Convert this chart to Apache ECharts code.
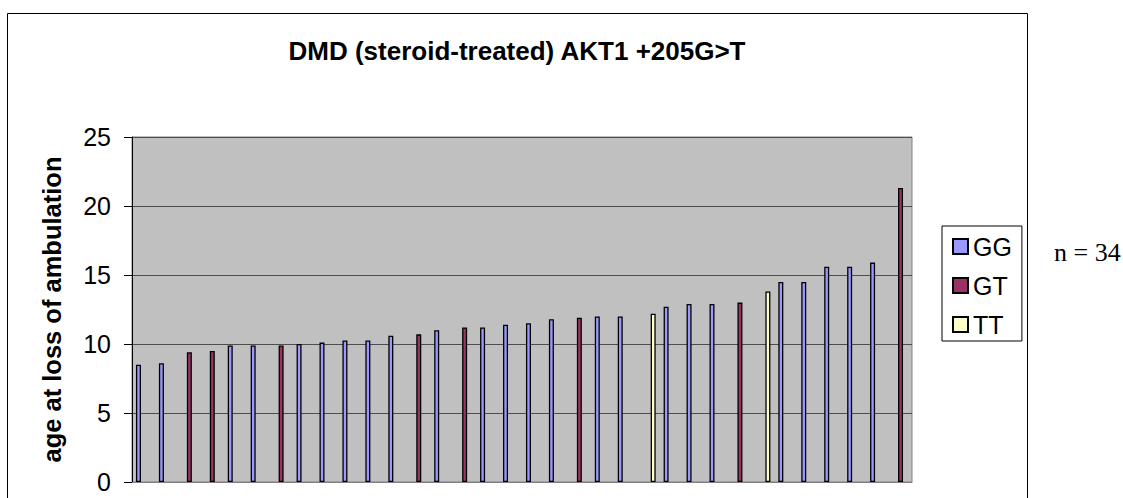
<!DOCTYPE html>
<html>
<head>
<meta charset="utf-8">
<script src="https://cdn.jsdelivr.net/npm/echarts@6/dist/echarts.min.js"></script>
<style>
html,body{margin:0;padding:0;background:#fff;}
#c{width:1123px;height:498px;}
</style>
</head>
<body>
<div id="c"></div>
<script>
const categories = ['1','2','3','4','5','6','7','8','9','10','11','12','13','14','15','16','17','18','19','20','21','22','23','24','25','26','27','28','29','30','31','32','33','34'];
const values = [8.5, 8.6, 9.4, 9.5, 9.9, 9.9, 9.9, 10.0, 10.1, 10.25, 10.25, 10.6, 10.7, 11.0, 11.2, 11.2, 11.4, 11.5, 11.8, 11.9, 12.0, 12.0, 12.2, 12.7, 12.9, 12.9, 13.0, 13.8, 14.5, 14.5, 15.6, 15.6, 15.9, 21.3];
const genotypes = ['GG','GG','GT','GT','GG','GG','GT','GG','GG','GG','GG','GG','GT','GG','GT','GG','GG','GG','GG','GT','GG','GG','TT','GG','GG','GG','GT','TT','GG','GG','GG','GG','GG','GT'];
const seriesNames = ['GG','GT','TT'];
const seriesColors = ['#9999FF','#993366','#FFFFCC'];
const yTicks = [0,5,10,15,20,25];
const titleText = 'DMD (steroid-treated) AKT1 +205G>T';
const yAxisTitle = 'age at loss of ambulation';
const noteText = 'n = 34';

const FONT = 'Liberation Sans, Arial, sans-serif';
const chart = echarts.init(document.getElementById('c'), null, {renderer: 'svg'});

const series = seriesNames.map((name, k) => ({
  name: name,
  type: 'bar',
  barWidth: 5,
  barGap: '0%',
  itemStyle: {color: seriesColors[k], borderColor: '#000', borderWidth: 1.3},
  emphasis: {disabled: true},
  data: values.map((v, i) => genotypes[i] === name ? v : '-')
}));

chart.setOption({
  animation: false,
  backgroundColor: '#fff',
  title: {
    text: titleText,
    left: 517,
    textAlign: 'center',
    top: 38,
    padding: 0,
    textStyle: {fontFamily: FONT, fontWeight: 'bold', fontSize: 26, color: '#000'}
  },
  grid: {
    left: 132, right: 211, top: 137, bottom: 16,
    show: true, backgroundColor: '#C0C0C0', borderColor: '#808080', borderWidth: 1
  },
  legend: {
    orient: 'vertical',
    left: 942, top: 226,
    padding: [8, 10, 4, 10],
    itemGap: 14,
    itemWidth: 15, itemHeight: 15,
    icon: 'rect',
    backgroundColor: '#fff',
    borderColor: '#000', borderWidth: 1, borderRadius: 0,
    textStyle: {fontFamily: FONT, fontSize: 25, color: '#000'},
    data: seriesNames
  },
  xAxis: {
    type: 'category',
    data: categories,
    axisLine: {show: true, lineStyle: {color: '#808080'}},
    axisTick: {show: false},
    axisLabel: {show: false},
    splitLine: {show: false}
  },
  yAxis: {
    type: 'value',
    min: yTicks[0], max: yTicks[yTicks.length - 1], interval: 5,
    name: yAxisTitle,
    nameLocation: 'middle',
    nameGap: 67,
    nameTextStyle: {fontFamily: FONT, fontWeight: 'bold', fontSize: 25.5, color: '#000'},
    axisLine: {show: true, lineStyle: {color: '#000'}},
    axisTick: {show: true, length: 8, lineStyle: {color: '#000'}},
    axisLabel: {margin: 21, fontFamily: FONT, fontSize: 25, color: '#000'},
    splitLine: {show: true, lineStyle: {color: '#4d4d4d', width: 1}}
  },
  graphic: [
    {type: 'rect', silent: true, z: -1,
     shape: {x: 7.5, y: 13.5, width: 1020, height: 520},
     style: {fill: 'none', stroke: '#000', lineWidth: 1}},
    {type: 'text', silent: true,
     style: {text: noteText, x: 1054, y: 252, align: 'left', verticalAlign: 'middle',
             fontFamily: 'Liberation Serif, Times New Roman, serif', fontSize: 26, fill: '#000'}}
  ],
  series: series
});
</script>
</body>
</html>
